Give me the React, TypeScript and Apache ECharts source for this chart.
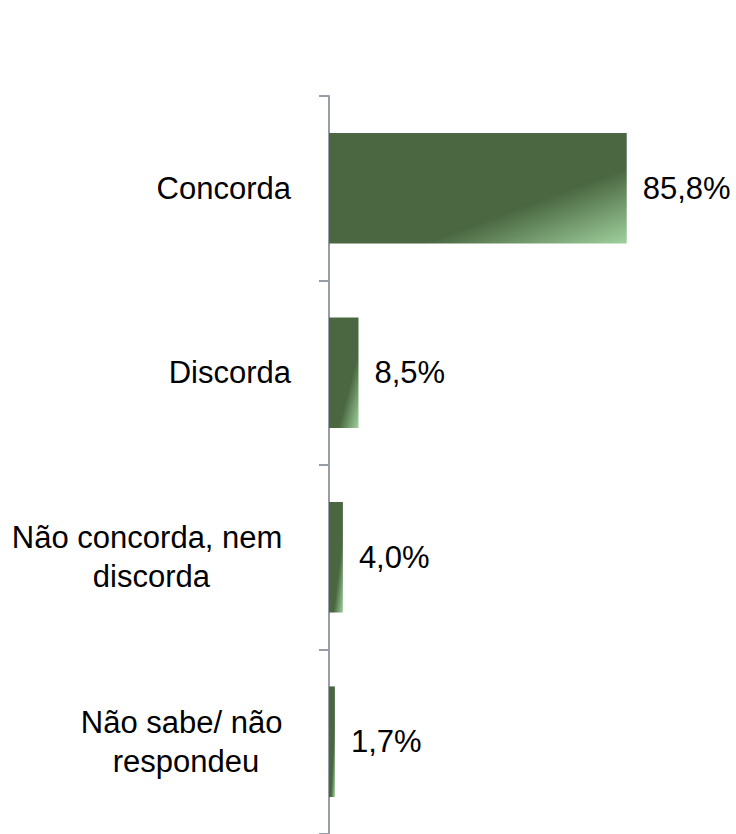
import React, { useEffect, useRef } from "react";
import * as echarts from "echarts";

const categories = [
  "Concorda",
  "Discorda",
  "Não concorda, nem \ndiscorda",
  "Não sabe/ não \nrespondeu",
];
const values = [85.8, 8.5, 4.0, 1.7];
const axisMin = 0;
const axisMax = 100;

export default function App() {
  const ref = useRef<HTMLDivElement>(null);

  useEffect(() => {
    if (!ref.current) return;
    const chart = echarts.init(ref.current, undefined, { renderer: "svg" });
    const gradient = new echarts.graphic.LinearGradient(0, 0, 1, 1, [
      { offset: 0, color: "#4a6741" },
      { offset: 0.66, color: "#4a6741" },
      { offset: 1, color: "#a0d19e" },
    ]);
    chart.setOption({
      animation: false,
      backgroundColor: "#ffffff",
      grid: { left: 329, top: 96, width: 347, height: 742, containLabel: false },
      xAxis: {
        type: "value",
        min: axisMin,
        max: axisMax,
        show: false,
      },
      yAxis: {
        type: "category",
        inverse: true,
        data: categories,
        axisLine: { show: true, lineStyle: { color: "#979ea8", width: 2 } },
        axisTick: { show: true, length: 10, lineStyle: { color: "#979ea8", width: 2 } },
        splitLine: { show: false },
        axisLabel: {
          margin: 38,
          align: "right",
          formatter: (v: string) =>
            v
              .split("\n")
              .map((s) => "{c|" + s + "}")
              .join("\n"),
          rich: {
            c: {
              align: "center",
              fontSize: 31,
              lineHeight: 39,
              color: "#000000",
              fontFamily: "Liberation Sans, Arial, sans-serif",
            },
          },
        },
      },
      series: [
        {
          type: "bar",
          data: values,
          barCategoryGap: "40%",
          itemStyle: { color: gradient },
          label: {
            show: true,
            position: "right",
            distance: 16,
            fontSize: 31,
            color: "#000000",
            fontFamily: "Liberation Sans, Arial, sans-serif",
            formatter: (p: any) => p.value.toFixed(1).replace(".", ",") + "%",
          },
        },
      ],
    });
    return () => chart.dispose();
  }, []);

  return (
    <div
      ref={ref}
      style={{ position: "fixed", left: 0, top: 0, width: 736, height: 834 }}
    />
  );
}
